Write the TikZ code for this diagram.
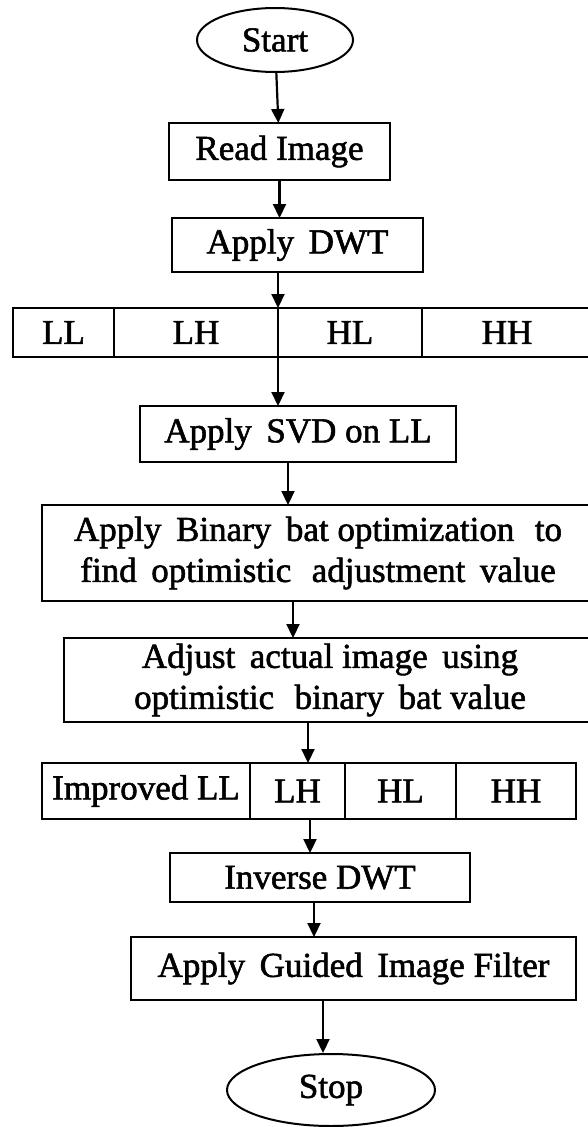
\documentclass[tikz,border=0pt]{standalone}
\usepackage{fontspec}
\setmainfont{Liberation Serif}[BoldFont=Liberation Serif, BoldFeatures={FakeBold=1.6}]
\usepackage{tikz}
\usetikzlibrary{positioning,arrows.meta,shapes.geometric}

\begin{document}
\begin{tikzpicture}[x=1pt,y=-1pt,
  every node/.style={font=\fontsize{35}{41}\selectfont\bfseries},
  blk/.style={draw, rectangle, line width=2pt, inner sep=0pt, outer sep=0pt, align=center},
  term/.style={draw, ellipse, line width=2pt, inner sep=0pt},
  arr/.style={-{Triangle[length=14pt,width=13pt]}, line width=2.2pt}]
\useasboundingbox (0,0) rectangle (587,1127);

\node[term, minimum width=156pt, minimum height=64pt] (start) at (275,40) {Start};
\node[blk, minimum width=221pt, minimum height=57pt] (read) at (279.5,151.5) {Read Image};
\node[blk, minimum width=251pt, minimum height=54pt] (dwt) at (297.5,245) {Apply\, DWT};

% sub-bands after DWT
\node[blk, minimum width=101pt, minimum height=49pt] (ll1) at (63.5,332.5) {LL};
\node[blk, minimum width=164pt, minimum height=49pt, right=0pt of ll1] (lh1) {LH};
\node[blk, minimum width=144pt, minimum height=49pt, right=0pt of lh1] (hl1) {HL};
\node[blk, minimum width=170pt, minimum height=49pt, right=0pt of hl1] (hh1) {HH};

\node[blk, minimum width=316pt, minimum height=56pt] (svd) at (298,434) {Apply\, SVD on LL};
\node[blk, minimum width=552pt, minimum height=96pt] (binary) at (318,553) {Apply\, Binary\, bat optimization\,\, to\\find\, optimistic\,\, adjustment\, value};
\node[blk, minimum width=532pt, minimum height=84pt] (adjust) at (330,680) {Adjust\, actual image\, using\\optimistic\,\, binary\, bat value};

% sub-bands after adjustment
\node[blk, minimum width=208pt, minimum height=56pt] (im2) at (146,791) {Improved LL};
\node[blk, minimum width=95pt, minimum height=56pt, right=0pt of im2] (lh2) {LH};
\node[blk, minimum width=111pt, minimum height=56pt, right=0pt of lh2] (hl2) {HL};
\node[blk, minimum width=120pt, minimum height=56pt, right=0pt of hl2] (hh2) {HH};

\node[blk, minimum width=300pt, minimum height=49pt] (inverse) at (320,877.5) {Inverse DWT};
\node[blk, minimum width=445pt, minimum height=63pt] (guided) at (353.5,968.5) {Apply\, Guided\, Image Filter};
\node[term, minimum width=208pt, minimum height=72pt] (stop) at (331,1090) {Stop};

\draw[arr] (start) -- (read);
\draw[arr] (read.south) -- (read.south |- dwt.north);
\draw[arr] (lh1.north east |- dwt.south) -- (lh1.north east);
\draw[arr] (lh1.south east) -- (lh1.south east |- svd.north);
\draw[arr] ([xshift=-10pt]svd.south) -- ([xshift=-10pt]svd.south |- binary.north);
\draw[arr] ([xshift=-25pt]binary.south) -- ([xshift=-25pt]binary.south |- adjust.north);
\draw[arr] ([xshift=-22pt]adjust.south) -- ([xshift=-22pt]adjust.south |- lh2.north);
\draw[arr] ([xshift=-10pt]inverse.north |- lh2.south) -- ([xshift=-10pt]inverse.north);
\draw[arr] ([xshift=-6pt]inverse.south) -- ([xshift=-6pt]inverse.south |- guided.north);
\draw[arr] ([xshift=-8pt]stop.north |- guided.south) -- ([xshift=-8pt]stop.north);
\end{tikzpicture}
\end{document}
